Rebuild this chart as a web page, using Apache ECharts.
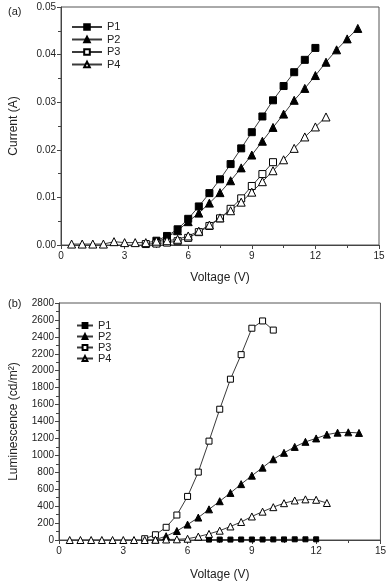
<!DOCTYPE html>
<html><head><meta charset="utf-8">
<script src="https://cdn.jsdelivr.net/npm/echarts@6/dist/echarts.min.js"></script>
<style>html,body{margin:0;padding:0;background:#fff}#c{width:389px;height:582px}</style>
</head><body><div id="c"></div>
<script>
// ---------- (a) Current vs Voltage ----------
const seriesNames = ['P1', 'P2', 'P3', 'P4'];
const xTicks = [0, 3, 6, 9, 12, 15];

const curV_P1 = [4.5,5,5.5,6,6.5,7,7.5,8,8.5,9,9.5,10,10.5,11,11.5,12];
const curI_P1 = [0.0009,0.0019,0.0033,0.0055,0.0081,0.0109,0.0138,0.0170,0.0203,0.0237,0.0270,0.0304,0.0334,0.0363,0.0389,0.0414];
const curV_P2 = [4.5,5,5.5,6,6.5,7,7.5,8,8.5,9,9.5,10,10.5,11,11.5,12,12.5,13,13.5,14];
const curI_P2 = [0.0006,0.0016,0.0030,0.0049,0.0067,0.0088,0.0110,0.0135,0.0162,0.0189,0.0218,0.0247,0.0275,0.0304,0.0329,0.0356,0.0384,0.0410,0.0433,0.0455];
const curV_P3 = [4,4.5,5,5.5,6,6.5,7,7.5,8,8.5,9,9.5,10];
const curI_P3 = [0.0002,0.0003,0.0005,0.0008,0.0015,0.0027,0.0040,0.0056,0.0076,0.0098,0.0124,0.0149,0.0174];
const curV_P4 = [0.5,1,1.5,2,2.5,3,3.5,4,4.5,5,5.5,6,6.5,7,7.5,8,8.5,9,9.5,10,10.5,11,11.5,12,12.5];
const curI_P4 = [0.0002,0.0002,0.0002,0.0002,0.0007,0.0005,0.0005,0.0005,0.0008,0.0009,0.0012,0.0019,0.0029,0.0042,0.0057,0.0072,0.0090,0.0111,0.0133,0.0156,0.0179,0.0203,0.0227,0.0248,0.0269];
const curTicks = [0.00, 0.01, 0.02, 0.03, 0.04, 0.05];

// ---------- (b) Luminescence vs Voltage ----------
const lumV_P1 = [7,7.5,8,8.5,9,9.5,10,10.5,11,11.5,12];
const lumL_P1 = [5,5,5,6,6,6,7,7,8,8,8];
const lumV_P2 = [4.5,5,5.5,6,6.5,7,7.5,8,8.5,9,9.5,10,10.5,11,11.5,12,12.5,13,13.5,14];
const lumL_P2 = [5,45,106,182,265,362,458,556,660,760,855,954,1030,1100,1160,1200,1245,1268,1272,1265];
const lumV_P3 = [4,4.5,5,5.5,6,6.5,7,7.5,8,8.5,9,9.5,10];
const lumL_P3 = [15,62,150,295,515,802,1168,1545,1900,2190,2502,2588,2480];
const lumV_P4 = [0.5,1,1.5,2,2.5,3,3.5,4,4.5,5,5.5,6,6.5,7,7.5,8,8.5,9,9.5,10,10.5,11,11.5,12,12.5];
const lumL_P4 = [0,0,0,0,0,0,0,0,3,6,8,15,40,72,110,160,213,278,335,388,435,467,480,475,437];
const lumTicks = [0,200,400,600,800,1000,1200,1400,1600,1800,2000,2200,2400,2600,2800];

const zip = (a, b) => a.map((v, i) => [v, b[i]]);
const FONT = '"Liberation Sans", Arial, sans-serif';
const LINE = '#3a3a3a';

const styles = {
  P1: { symbol: 'rect', fill: '#000' },
  P2: { symbol: 'triangle', fill: '#000' },
  P3: { symbol: 'rect', fill: '#fff' },
  P4: { symbol: 'triangle', fill: '#fff' }
};

function mkSeries(name, data, idx, size) {
  return {
    type: 'line', name, xAxisIndex: idx, yAxisIndex: idx, data,
    symbol: styles[name].symbol, symbolSize: size, showAllSymbol: true,
    lineStyle: { color: LINE, width: 1 },
    itemStyle: { color: styles[name].fill, borderColor: '#000', borderWidth: 1 },
    animation: false, z: 3
  };
}

function xAxis(gridIndex, gap) {
  return {
    type: 'value', gridIndex, min: xTicks[0], max: xTicks[xTicks.length - 1], interval: 3,
    name: 'Voltage (V)', nameLocation: 'middle', nameGap: gap,
    nameTextStyle: { fontFamily: FONT, fontSize: 12, color: '#222' },
    axisLine: { show: true, lineStyle: { color: '#444', width: 1 } },
    axisTick: { show: true, inside: false, length: 4, lineStyle: { color: '#444' } },
    minorTick: { show: true, splitNumber: 2, length: 3, lineStyle: { color: '#444' } },
    axisLabel: { fontFamily: FONT, fontSize: 10, color: '#222', margin: 6 },
    splitLine: { show: false }
  };
}

const chart = echarts.init(document.getElementById('c'), null, { renderer: 'canvas' });
chart.setOption({
  animation: false,
  backgroundColor: '#fff',
  title: [
    { text: '(a)', left: 3, top: 1, textStyle: { fontFamily: FONT, fontSize: 11, fontWeight: 'normal', color: '#222' } },
    { text: '(b)', left: 3, top: 293, textStyle: { fontFamily: FONT, fontSize: 11, fontWeight: 'normal', color: '#222' } }
  ],
  grid: [
    { left: 57, top: 7, right: 10, bottom: 337, show: true, borderColor: '#555', borderWidth: 1, containLabel: false },
    { left: 55, top: 303, right: 7, bottom: 37, show: true, borderColor: '#555', borderWidth: 1, containLabel: false }
  ],
  legend: [
    {
      data: seriesNames, orient: 'vertical', left: 66, top: 16, itemWidth: 30, itemHeight: 7, itemGap: 0.5,
      textStyle: { fontFamily: FONT, fontSize: 11, color: '#222', lineHeight: 12 }, selectedMode: false
    },
    {
      data: seriesNames, orient: 'vertical', left: 71, top: 315, itemWidth: 16, itemHeight: 6, itemGap: 0,
      textStyle: { fontFamily: FONT, fontSize: 11, color: '#222', lineHeight: 10 }, selectedMode: false
    }
  ],
  xAxis: [xAxis(0, 27), xAxis(1, 29)],
  yAxis: [
    {
      type: 'value', gridIndex: 0, min: curTicks[0], max: curTicks[curTicks.length - 1], interval: 0.01,
      name: 'Current (A)', nameLocation: 'middle', nameGap: 41,
      nameTextStyle: { fontFamily: FONT, fontSize: 12, color: '#222' },
      axisLine: { show: true, lineStyle: { color: '#444' } },
      axisTick: { show: true, length: 4, lineStyle: { color: '#444' } },
      minorTick: { show: true, splitNumber: 2, length: 3, lineStyle: { color: '#444' } },
      axisLabel: { fontFamily: FONT, fontSize: 10, color: '#222', margin: 5, formatter: v => v.toFixed(2) },
      splitLine: { show: false }
    },
    {
      type: 'value', gridIndex: 1, min: lumTicks[0], max: lumTicks[lumTicks.length - 1], interval: 200,
      name: 'Luminescence (cd/m²)', nameLocation: 'middle', nameGap: 39,
      nameTextStyle: { fontFamily: FONT, fontSize: 12, color: '#222' },
      axisLine: { show: true, lineStyle: { color: '#444' } },
      axisTick: { show: true, length: 4, lineStyle: { color: '#444' } },
      minorTick: { show: true, splitNumber: 2, length: 3, lineStyle: { color: '#444' } },
      axisLabel: { fontFamily: FONT, fontSize: 10, color: '#222', margin: 5, formatter: v => String(v) },
      splitLine: { show: false }
    }
  ],
  series: [
    mkSeries('P1', zip(curV_P1, curI_P1), 0, 7),
    mkSeries('P2', zip(curV_P2, curI_P2), 0, 8),
    mkSeries('P3', zip(curV_P3, curI_P3), 0, 7),
    mkSeries('P4', zip(curV_P4, curI_P4), 0, 8),
    mkSeries('P1', zip(lumV_P1, lumL_P1), 1, 5),
    mkSeries('P2', zip(lumV_P2, lumL_P2), 1, 7),
    mkSeries('P3', zip(lumV_P3, lumL_P3), 1, 6),
    mkSeries('P4', zip(lumV_P4, lumL_P4), 1, 7)
  ]
});
</script></body></html>
